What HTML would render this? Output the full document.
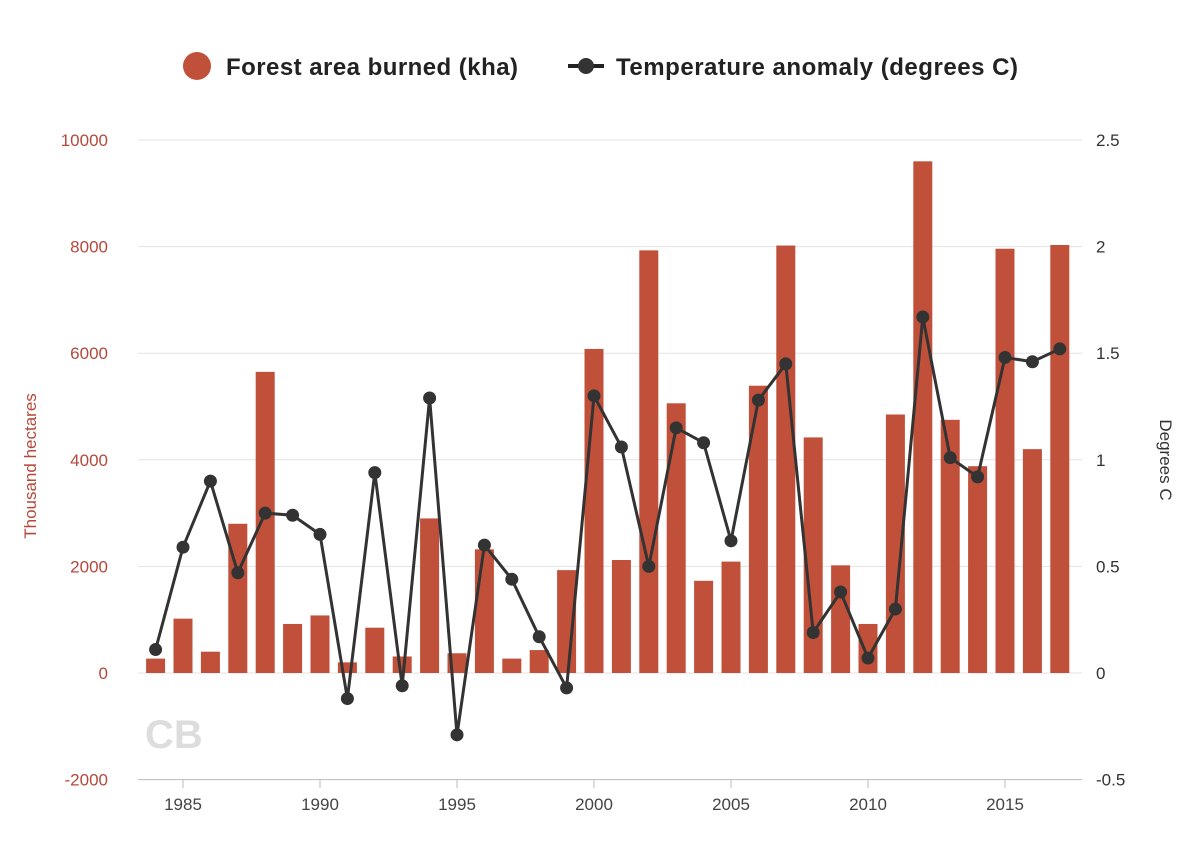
<!DOCTYPE html>
<html><head><meta charset="utf-8"><style>
body{margin:0;background:#fff;font-family:"Liberation Sans",sans-serif}
svg{display:block}
</style></head><body>
<svg id="chart" width="1200" height="854">
<g>
<g><circle cx="197" cy="66" r="14" fill="#c0503a"/><text x="226" y="75" font-size="24" font-weight="bold" fill="#222" textLength="292" lengthAdjust="spacing">Forest area burned (kha)</text></g>
<g><line x1="568" y1="66" x2="604" y2="66" stroke="#222" stroke-width="4"/><circle cx="586" cy="66" r="8" fill="#333"/><text x="616" y="75" font-size="24" font-weight="bold" fill="#222" textLength="402" lengthAdjust="spacing">Temperature anomaly (degrees C)</text></g>
</g>
<text x="30" y="460" transform="rotate(-90 36 460)" text-anchor="middle" font-size="17" fill="#b5483a">Thousand hectares</text>
<text x="1160" y="460" transform="rotate(90 1160 460)" text-anchor="middle" font-size="17" fill="#333">Degrees C</text>
<text x="145" y="748" font-size="40" font-weight="bold" fill="#ddd">CB</text>
<g id="grid"></g><g id="bars"></g><g id="line"></g><g id="axes"></g>
</svg>
<script>
const years=[1984,1985,1986,1987,1988,1989,1990,1991,1992,1993,1994,1995,1996,1997,1998,1999,2000,2001,2002,2003,2004,2005,2006,2007,2008,2009,2010,2011,2012,2013,2014,2015,2016,2017];
const burned=[270,1020,400,2800,5650,920,1080,200,850,310,2900,370,2320,270,430,1930,6080,2120,7930,5060,1730,2090,5390,8020,4420,2020,920,4850,9600,4750,3880,7960,4200,8030];
const temp=[0.11,0.59,0.90,0.47,0.75,0.74,0.65,-0.12,0.94,-0.06,1.29,-0.29,0.60,0.44,0.17,-0.07,1.30,1.06,0.50,1.15,1.08,0.62,1.28,1.45,0.19,0.38,0.07,0.30,1.67,1.01,0.92,1.48,1.46,1.52];
const leftTicks=[-2000,0,2000,4000,6000,8000,10000];
const rightTicks=["-0.5","0","0.5","1","1.5","2","2.5"];
const xTicks=[1985,1990,1995,2000,2005,2010,2015];
const NS="http://www.w3.org/2000/svg";
const X=y=>183+(y-1985)*27.4;
const YL=v=>673-v*(533/10000);
const YR=v=>673-v*(533/2.5);
function mk(t,a,p){const e=document.createElementNS(NS,t);for(const k in a)e.setAttribute(k,a[k]);p.appendChild(e);return e;}
const grid=document.getElementById('grid'),bars=document.getElementById('bars'),line=document.getElementById('line'),axes=document.getElementById('axes');
leftTicks.forEach((v,i)=>{const y=YL(v);
const g=mk('line',{x1:138,x2:1082,y1:y,y2:y,stroke:i==0?'#bbb':'#e3e3e3','stroke-width':1},grid);


const t=mk('text',{x:108,y:y+6,'text-anchor':'end','font-size':17,fill:'#b5483a'},axes);t.textContent=v;


const r=mk('text',{x:1096,y:y+6,'font-size':17,fill:'#333'},axes);r.textContent=rightTicks[i];

});
xTicks.forEach(yr=>{const x=X(yr);
const tk=mk('line',{x1:x,x2:x,y1:780,y2:788,stroke:'#bbb'},axes);


const t=mk('text',{x:x,y:810,'text-anchor':'middle','font-size':17,fill:'#444'},axes);t.textContent=yr;

});
years.forEach((yr,i)=>{const y=YL(burned[i]);
const b=mk('rect',{x:X(yr)-9.5,y:y,width:19,height:YL(0)-y,fill:'#c0503a'},bars);

});
const pl=mk('polyline',{points:years.map((yr,i)=>X(yr)+','+YR(temp[i])).join(' '),fill:'none',stroke:'#333','stroke-width':3},line);


years.forEach((yr,i)=>{const c=mk('circle',{cx:X(yr),cy:YR(temp[i]),r:6.5,fill:'#333'},line);

});
</script>
</body></html>
